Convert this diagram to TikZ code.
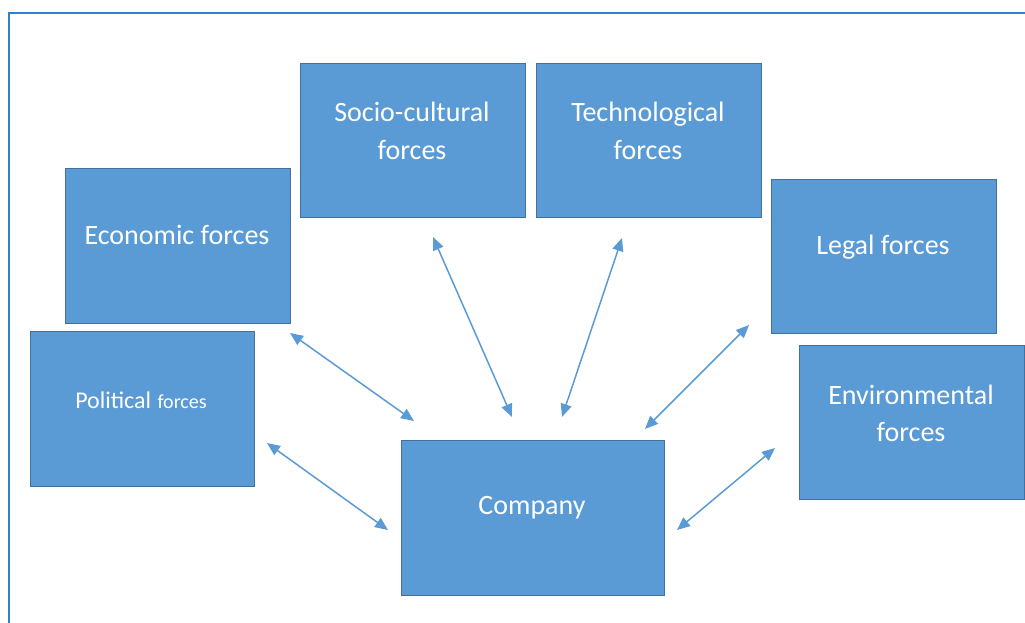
\documentclass[tikz,border=0pt]{standalone}
\usepackage{fontspec}
\setmainfont{Carlito}
\usetikzlibrary{arrows.meta}
\definecolor{boxfill}{HTML}{5B9BD5}
\definecolor{boxline}{HTML}{41719C}
\definecolor{framecol}{HTML}{2A82D0}
\begin{document}
\begin{tikzpicture}[x=1pt,y=-1pt,
  forcebox/.style={draw=boxline, line width=1.4pt, fill=boxfill, inner sep=0pt, anchor=north west},
  boxtext/.style={text=white, font=\fontsize{28}{37}\selectfont, align=center, anchor=base, inner sep=0pt},
  link/.style={draw=boxfill, line width=1.5pt, {Triangle[length=13pt,width=11pt]}-{Triangle[length=13pt,width=11pt]}}]
\useasboundingbox (0,0) rectangle (1025,623);
\draw[framecol, line width=2pt] (9,623) -- (9,13) -- (1025,13);
% boxes
\node[forcebox, minimum width=225pt, minimum height=154pt] (socio) at (300,63) {};
\node[forcebox, minimum width=225pt, minimum height=154pt] (tech) at (536,63) {};
\node[forcebox, minimum width=225pt, minimum height=155pt] (econ) at (65,168) {};
\node[forcebox, minimum width=225pt, minimum height=154pt] (legal) at (771,179) {};
\node[forcebox, minimum width=224pt, minimum height=155pt] (pol) at (30,331) {};
\node[forcebox, minimum width=225pt, minimum height=154pt] (env) at (799,345) {};
\node[forcebox, minimum width=263pt, minimum height=155pt] (comp) at (401,440) {};
% texts (base = last line)
\node[boxtext] (sociot) at (412,159) {Socio-cultural\\forces};
\node[boxtext] (techt) at (648,159) {Technological\\forces};
\node[boxtext] (econt) at (177,244) {Economic forces};
\node[boxtext] (legalt) at (883,254) {Legal forces};
\node[boxtext] (polt) at (141,408) {{\fontsize{24}{29}\selectfont Political} {\fontsize{20}{24}\selectfont forces}};
\node[boxtext] (envt) at (911,441) {Environmental\\forces};
\node[boxtext] (compt) at (532,514) {Company};
% arrow ends
\coordinate (e1) at (290,333); \coordinate (e2) at (414,421);
\coordinate (p1) at (267,443); \coordinate (p2) at (388,530);
\coordinate (s1) at (433,237); \coordinate (s2) at (512,417);
\coordinate (t1) at (622,238); \coordinate (t2) at (562,417);
\coordinate (l1) at (749,325); \coordinate (l2) at (645,429);
\coordinate (v1) at (775,448); \coordinate (v2) at (677,530);
\draw[link] (e1) -- (e2);
\draw[link] (p1) -- (p2);
\draw[link] (s1) -- (s2);
\draw[link] (t1) -- (t2);
\draw[link] (l1) -- (l2);
\draw[link] (v1) -- (v2);
\end{tikzpicture}
\end{document}
